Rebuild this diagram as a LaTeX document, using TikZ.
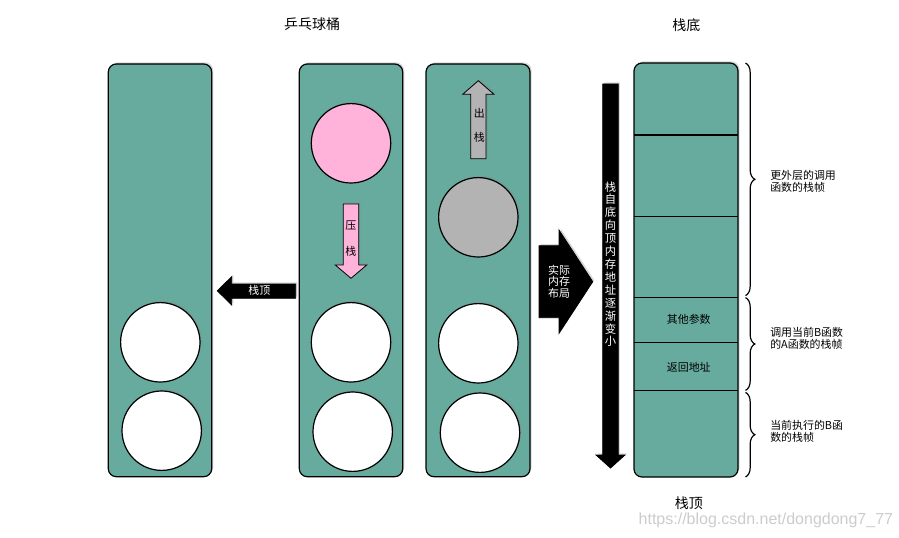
\documentclass[tikz,border=0pt]{standalone}
\usepackage{fontspec}
\newfontfamily\cjk{Noto Sans CJK SC}
\newfontfamily\wmfont{Liberation Sans}
\usetikzlibrary{shadows,decorations.pathreplacing}
\definecolor{tubeteal}{RGB}{103,171,159}
\definecolor{ballpink}{RGB}{255,179,218}
\definecolor{ballgray}{RGB}{179,179,179}
\tikzset{
  softshadow/.style={drop shadow={shadow xshift=1.2pt,shadow yshift=1.2pt,opacity=0.3}},
  tube/.style={draw=black,line width=0.9pt,fill=tubeteal,rounded corners=6pt,softshadow},
  ball/.style={draw=black,line width=0.9pt,softshadow},
  blockarrow/.style={draw=black,line width=0.6pt,softshadow},
  lbl/.style={font=\cjk\fontsize{8.2}{9}\selectfont,inner sep=0.75pt},
  title/.style={font=\cjk\fontsize{10.5}{12}\selectfont,inner sep=0.75pt},
  framebrace/.style={decorate,decoration={brace,amplitude=7pt},line width=0.9pt},
}
\begin{document}
\begin{tikzpicture}[x=0.75pt,y=0.75pt,yscale=-1,xscale=1]
\useasboundingbox (0,0) rectangle (899,538);
%Shape: Rounded Rect [tube 1]
\draw[tube] (108.3,64) rectangle (211.7,476.7);
%Shape: Rounded Rect [tube 2]
\draw[tube] (299.3,64) rectangle (402.7,476.7);
%Shape: Rounded Rect [tube 3]
\draw[tube] (426,64) rectangle (530,476.7);
%Shape: Rounded Rect [memory column]
\draw[tube] (634,63) rectangle (738,477);
%Straight Lines [frame dividers]
\draw[line width=0.9pt] (634,135.1) -- (738,135.1);
\draw[line width=0.9pt] (634,216.6) -- (738,216.6);
\draw[line width=0.9pt] (634,297.3) -- (738,297.3);
\draw[line width=0.9pt] (634,342.3) -- (738,342.3);
\draw[line width=0.9pt] (634,390.4) -- (738,390.4);

%Shape: Circle [balls of tube 1]
\draw[ball,fill=white] (160.3,342.3) circle [radius=39.7];
\draw[ball,fill=white] (161.7,430.7) circle [radius=39.7];
%Shape: Circle [balls of tube 2]
\draw[ball,fill=ballpink] (351,143.3) circle [radius=39.7];
\draw[ball,fill=white] (351,342.3) circle [radius=39.7];
\draw[ball,fill=white] (352.7,431.7) circle [radius=39.7];
%Shape: Circle [balls of tube 3]
\draw[ball,fill=ballgray] (478.3,217.3) circle [radius=39.7];
\draw[ball,fill=white] (478.3,343.3) circle [radius=39.7];
\draw[ball,fill=white] (480,432.7) circle [radius=39.7];

%Shape: Down Arrow [push]
\draw[blockarrow,fill=ballpink] (343.3,204) -- (358.7,204) -- (358.7,265) -- (366.7,265) -- (351,278.3) -- (335.3,265) -- (343.3,265) -- cycle;
%Shape: Up Arrow [pop]
\draw[blockarrow,fill=ballgray] (470.7,158.7) -- (486,158.7) -- (486,94.3) -- (494,94.3) -- (478.3,80.7) -- (462.7,94.3) -- (470.7,94.3) -- cycle;
%Shape: Left Arrow [top of stack]
\draw[blockarrow,fill=black] (295.7,284) -- (231.7,284) -- (231.7,276.7) -- (217.3,290.8) -- (231.7,305) -- (231.7,298.3) -- (295.7,298.3) -- cycle;
%Shape: Right Arrow [layout]
\draw[blockarrow,fill=black] (539,245.7) -- (559,245.7) -- (559,230) -- (592.7,281.7) -- (559,333.3) -- (559,317.7) -- (539,317.7) -- cycle;
%Shape: Down Arrow [address direction]
\draw[blockarrow,fill=black] (602.7,84) -- (618.3,84) -- (618.3,455) -- (625,455) -- (610.5,468) -- (596,455) -- (602.7,455) -- cycle;

%Braces
\draw[framebrace] (745.5,63) -- (745.5,295.6);
\draw[framebrace] (745.5,297.6) -- (745.5,390.4);
\draw[framebrace] (745.5,392.4) -- (745.5,477);

% Text Node
\node[title] (bucket) at (312,24) {乒乓球桶};
% Text Node
\node[title] (bottom) at (686.4,25.5) {栈底};
% Text Node
\node[title] (top) at (688.8,503) {栈顶};
% Text Node
\node[lbl] (push1) at (350.9,225.7) {压};
\node[lbl] (push2) at (350.9,251) {栈};
% Text Node
\node[lbl] (pop1) at (479.3,113.3) {出};
\node[lbl] (pop2) at (479.3,137.3) {栈};
% Text Node
\node[lbl,text=white] (toplbl) at (259.3,290.5) {栈顶};
% Text Node
\node[lbl,text=white,align=center,font=\cjk\fontsize{8.2}{8.6}\selectfont] (layout) at (559,281.5) {实际\\内存\\布局};
% Text Node
\node[lbl,text=white,align=center,font=\cjk\fontsize{8.5}{9.68}\selectfont] (dir) at (610.5,264.2) {栈\\自\\底\\向\\顶\\内\\存\\地\\址\\逐\\渐\\变\\小};
% Text Node
\node[lbl] (args) at (688.8,319) {其他参数};
\node[lbl] (ret) at (688.8,367) {返回地址};
% Text Node
\node[lbl,anchor=west,align=left] (outer) at (769,181.7) {更外层的调用\\函数的栈帧};
\node[lbl,anchor=west,align=left] (caller) at (769,338.7) {调用当前B函数\\的A函数的栈帧};
\node[lbl,anchor=west,align=left] (callee) at (769,431.8) {当前执行的B函\\数的栈帧};
% Text Node
\node[font=\wmfont\fontsize{12}{14}\selectfont,text=gray!40,anchor=west,inner sep=0pt] (mark) at (638.4,520) {https://blog.csdn.net/dongdong7\_77};
\end{tikzpicture}
\end{document}
